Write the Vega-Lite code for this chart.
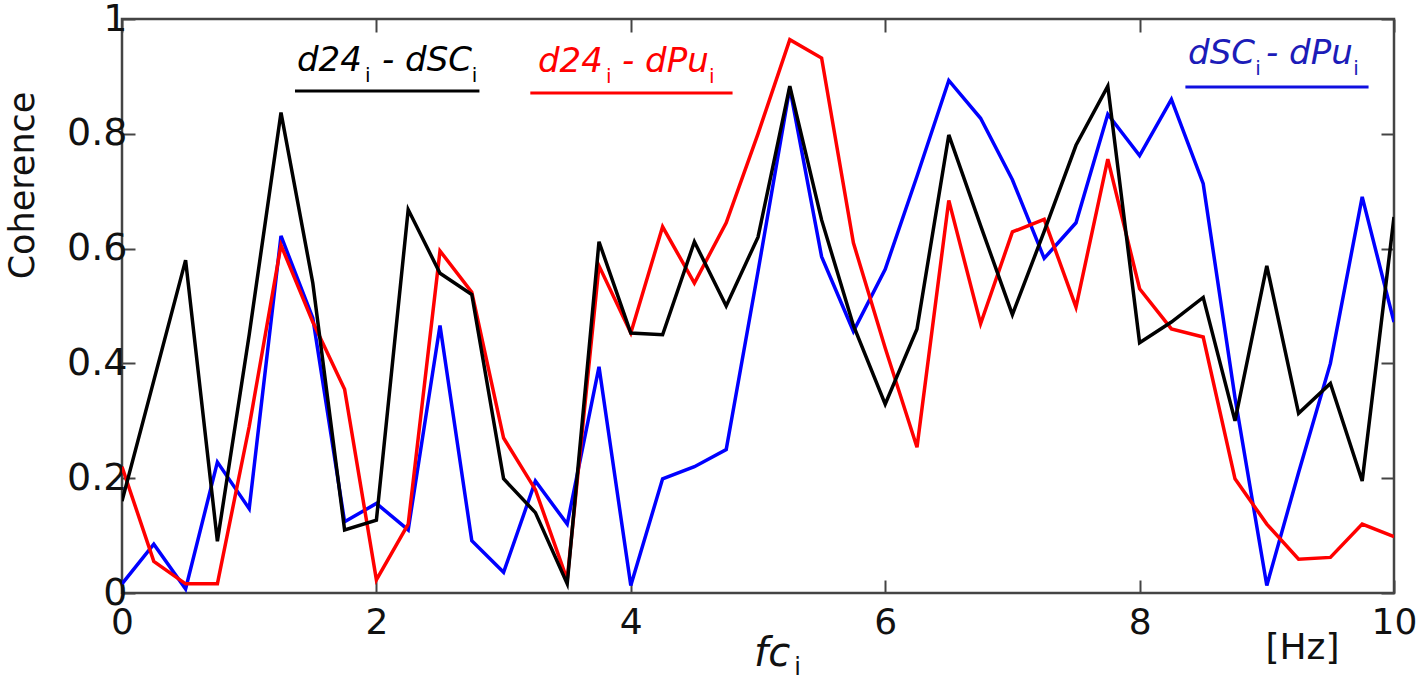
{
  "$schema": "https://vega.github.io/schema/vega-lite/v6.json",
  "width": 1272,
  "height": 574,
  "autosize": {"type": "none"},
  "padding": {"left": 122, "top": 19, "right": 23, "bottom": 86},
  "config": {
    "font": "DejaVu Sans",
    "view": {"stroke": "#444444", "strokeWidth": 2.5},
    "axis": {
      "grid": false,
      "domain": false,
      "tickSize": -13,
      "tickColor": "#444444",
      "tickWidth": 2,
      "labelFont": "DejaVu Sans",
      "labelFontSize": 38,
      "labelColor": "#111111",
      "labelFlush": false
    }
  },
  "datasets": {
    "coh": [
      {"f": 0, "k": 0.16, "r": 0.22, "b": 0.016},
      {"f": 0.25, "k": 0.37, "r": 0.055, "b": 0.085},
      {"f": 0.5, "k": 0.58, "r": 0.016, "b": 0.007},
      {"f": 0.75, "k": 0.09, "r": 0.016, "b": 0.228},
      {"f": 1.0, "k": 0.45, "r": 0.29, "b": 0.147},
      {"f": 1.25, "k": 0.837, "r": 0.606, "b": 0.622},
      {"f": 1.5, "k": 0.54, "r": 0.472, "b": 0.479},
      {"f": 1.75, "k": 0.11, "r": 0.355, "b": 0.124},
      {"f": 2.0, "k": 0.127, "r": 0.023, "b": 0.156},
      {"f": 2.25, "k": 0.668, "r": 0.12, "b": 0.11},
      {"f": 2.5, "k": 0.557, "r": 0.596, "b": 0.466},
      {"f": 2.75, "k": 0.52, "r": 0.524, "b": 0.091},
      {"f": 3.0, "k": 0.199, "r": 0.27, "b": 0.036},
      {"f": 3.25, "k": 0.14, "r": 0.18, "b": 0.195},
      {"f": 3.5, "k": 0.016, "r": 0.023, "b": 0.12},
      {"f": 3.75, "k": 0.612, "r": 0.57, "b": 0.394},
      {"f": 4.0, "k": 0.453, "r": 0.453, "b": 0.013},
      {"f": 4.25, "k": 0.45, "r": 0.638, "b": 0.199},
      {"f": 4.5, "k": 0.612, "r": 0.54, "b": 0.22},
      {"f": 4.75, "k": 0.5, "r": 0.645, "b": 0.25},
      {"f": 5.0, "k": 0.62, "r": 0.8, "b": 0.56},
      {"f": 5.25, "k": 0.883, "r": 0.964, "b": 0.88},
      {"f": 5.5, "k": 0.65, "r": 0.932, "b": 0.586},
      {"f": 5.75, "k": 0.466, "r": 0.61, "b": 0.456},
      {"f": 6.0, "k": 0.329, "r": 0.427, "b": 0.564},
      {"f": 6.25, "k": 0.46, "r": 0.254, "b": 0.726},
      {"f": 6.5, "k": 0.798, "r": 0.684, "b": 0.893},
      {"f": 6.75, "k": 0.64, "r": 0.469, "b": 0.827},
      {"f": 7.0, "k": 0.485, "r": 0.629, "b": 0.72},
      {"f": 7.25, "k": 0.63, "r": 0.651, "b": 0.583},
      {"f": 7.5, "k": 0.78, "r": 0.498, "b": 0.645},
      {"f": 7.75, "k": 0.883, "r": 0.756, "b": 0.834},
      {"f": 8.0, "k": 0.436, "r": 0.53, "b": 0.762},
      {"f": 8.25, "k": 0.472, "r": 0.46, "b": 0.86},
      {"f": 8.5, "k": 0.515, "r": 0.446, "b": 0.713},
      {"f": 8.75, "k": 0.3, "r": 0.199, "b": 0.34},
      {"f": 9.0, "k": 0.57, "r": 0.12, "b": 0.013},
      {"f": 9.25, "k": 0.313, "r": 0.059, "b": 0.21},
      {"f": 9.5, "k": 0.365, "r": 0.062, "b": 0.4},
      {"f": 9.75, "k": 0.195, "r": 0.12, "b": 0.69},
      {"f": 10.0, "k": 0.655, "r": 0.098, "b": 0.472}
    ],
    "pieces": [
      {"f": 1.376, "c": 0.909, "t": "d24", "pair": "k", "kind": "main"},
      {"f": 1.91, "c": 0.89, "t": "i", "pair": "k", "kind": "sub"},
      {"f": 2.044, "c": 0.909, "t": "- dSC", "pair": "k", "kind": "main"},
      {"f": 2.75, "c": 0.89, "t": "i", "pair": "k", "kind": "sub"},
      {"f": 3.27, "c": 0.908, "t": "d24", "pair": "r", "kind": "main"},
      {"f": 3.805, "c": 0.889, "t": "i", "pair": "r", "kind": "sub"},
      {"f": 3.931, "c": 0.908, "t": "- dPu", "pair": "r", "kind": "main"},
      {"f": 4.615, "c": 0.889, "t": "i", "pair": "r", "kind": "sub"},
      {"f": 8.381, "c": 0.921, "t": "dSC", "pair": "b", "kind": "main"},
      {"f": 8.91, "c": 0.902, "t": "i", "pair": "b", "kind": "sub"},
      {"f": 8.994, "c": 0.921, "t": "- dPu", "pair": "b", "kind": "main"},
      {"f": 9.68, "c": 0.902, "t": "i", "pair": "b", "kind": "sub"}
    ],
    "xTitle": [
      {"f": 4.969, "c": -0.127, "t": "fc", "kind": "main"},
      {"f": 5.285, "c": -0.1429, "t": "i", "kind": "sub"}
    ],
    "underlines": [
      {"f": 1.36, "f2": 2.81, "c": 0.8746, "pair": "k"},
      {"f": 3.21, "f2": 4.8, "c": 0.871, "pair": "r"},
      {"f": 8.36, "f2": 9.8, "c": 0.8815, "pair": "b"}
    ],
    "unit": [{"f": 9.28, "c": -0.096, "t": "[Hz]"}]
  },
  "layer": [
    {
      "data": {"name": "coh"},
      "transform": [{"fold": ["b", "r", "k"], "as": ["pair", "c"]}],
      "mark": {"type": "line", "strokeWidth": 3.5, "clip": true},
      "encoding": {
        "x": {
          "field": "f",
          "type": "quantitative",
          "scale": {"domain": [0, 10], "nice": false},
          "axis": {"orient": "bottom", "values": [0, 2, 4, 6, 8, 10], "labelFontSize": 36, "labelPadding": 25, "title": null}
        },
        "y": {
          "field": "c",
          "type": "quantitative",
          "scale": {"domain": [0, 1], "nice": false},
          "axis": {
            "orient": "left",
            "values": [0, 0.2, 0.4, 0.6, 0.8, 1],
            "format": "~g",
            "labelPadding": 8,
            "title": "Coherence",
            "titleFont": "DejaVu Sans",
            "titleFontSize": 35,
            "titleFontWeight": "normal",
            "titleColor": "#111111",
            "titleBaseline": "middle",
            "titleX": -100,
            "titleY": 166
          }
        },
        "color": {
          "field": "pair",
          "type": "nominal",
          "scale": {"domain": ["b", "r", "k"], "range": ["#0000ff", "#ff0000", "#000000"]},
          "legend": null
        }
      }
    },
    {
      "data": {"name": "underlines"},
      "mark": {"type": "rule", "strokeWidth": 3},
      "encoding": {
        "x": {
          "field": "f",
          "type": "quantitative",
          "axis": {"orient": "top", "values": [0, 2, 4, 6, 8, 10], "labels": false, "title": null}
        },
        "x2": {"field": "f2"},
        "y": {
          "field": "c",
          "type": "quantitative",
          "axis": {"orient": "right", "values": [0, 0.2, 0.4, 0.6, 0.8, 1], "labels": false, "title": null}
        },
        "color": {
          "field": "pair",
          "type": "nominal",
          "scale": {"domain": ["b", "r", "k"], "range": ["#1010e0", "#ff0000", "#000000"]},
          "legend": null
        }
      }
    },
    {
      "data": {"name": "pieces"},
      "transform": [{"filter": "datum.kind === 'main'"}],
      "mark": {"type": "text", "font": "DejaVu Sans", "fontStyle": "italic", "fontSize": 34, "align": "left", "baseline": "alphabetic"},
      "encoding": {
        "x": {"field": "f", "type": "quantitative", "axis": null},
        "y": {"field": "c", "type": "quantitative", "axis": null},
        "text": {"field": "t"},
        "color": {
          "field": "pair",
          "type": "nominal",
          "scale": {"domain": ["b", "r", "k"], "range": ["#1c1cb8", "#ff0000", "#000000"]},
          "legend": null
        }
      }
    },
    {
      "data": {"name": "pieces"},
      "transform": [{"filter": "datum.kind === 'sub'"}],
      "mark": {"type": "text", "font": "DejaVu Sans", "fontSize": 20, "align": "left", "baseline": "alphabetic"},
      "encoding": {
        "x": {"field": "f", "type": "quantitative", "axis": null},
        "y": {"field": "c", "type": "quantitative", "axis": null},
        "text": {"field": "t"},
        "color": {
          "field": "pair",
          "type": "nominal",
          "scale": {"domain": ["b", "r", "k"], "range": ["#1c1cb8", "#ff0000", "#000000"]},
          "legend": null
        }
      }
    },
    {
      "data": {"name": "xTitle"},
      "transform": [{"filter": "datum.kind === 'main'"}],
      "mark": {"type": "text", "font": "DejaVu Sans", "fontStyle": "italic", "fontSize": 40, "align": "left", "baseline": "alphabetic", "color": "#111111"},
      "encoding": {
        "x": {"field": "f", "type": "quantitative", "axis": null},
        "y": {"field": "c", "type": "quantitative", "axis": null},
        "text": {"field": "t"}
      }
    },
    {
      "data": {"name": "xTitle"},
      "transform": [{"filter": "datum.kind === 'sub'"}],
      "mark": {"type": "text", "font": "DejaVu Sans", "fontSize": 24, "align": "left", "baseline": "alphabetic", "color": "#111111"},
      "encoding": {
        "x": {"field": "f", "type": "quantitative", "axis": null},
        "y": {"field": "c", "type": "quantitative", "axis": null},
        "text": {"field": "t"}
      }
    },
    {
      "data": {"name": "unit"},
      "mark": {"type": "text", "font": "DejaVu Sans", "fontSize": 36, "baseline": "middle", "color": "#111111"},
      "encoding": {
        "x": {"field": "f", "type": "quantitative", "axis": null},
        "y": {"field": "c", "type": "quantitative", "axis": null},
        "text": {"field": "t"}
      }
    }
  ],
  "resolve": {
    "axis": {"x": "independent", "y": "independent"},
    "scale": {"color": "independent"}
  }
}
